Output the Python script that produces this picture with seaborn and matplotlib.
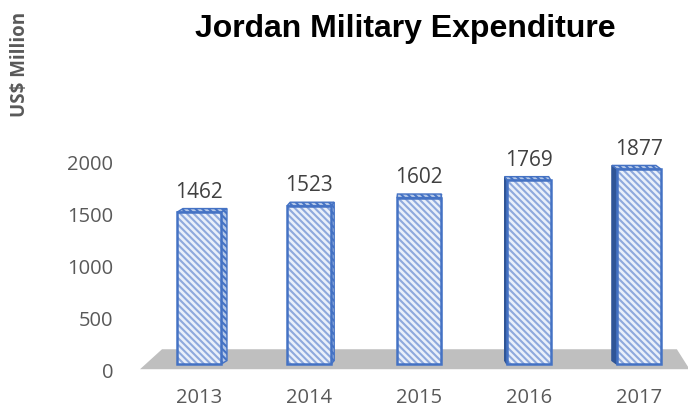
import matplotlib
matplotlib.use("Agg")
import matplotlib.pyplot as plt
import seaborn as sns
import pandas as pd
from matplotlib.patches import Polygon, Rectangle
from matplotlib.transforms import ScaledTranslation

years = ["2013", "2014", "2015", "2016", "2017"]
spending = [1462, 1523, 1602, 1769, 1877]
yticks = [0, 500, 1000, 1500, 2000]

df = pd.DataFrame({"year": years, "spend": spending})

sns.set_style("white")
plt.rcParams["font.family"] = ["Open Sans", "DejaVu Sans"]
plt.rcParams["hatch.linewidth"] = 1.5

fig = plt.figure(figsize=(6.9, 4.1), dpi=100)
# bars start at the floor, 0 tick label sits a bit lower (3d look)
ax = fig.add_axes([0.2007, 0.094, 0.797, 0.5478])

# grey 3d floor
floor = Polygon([(-0.536, -48), (-0.336, 144), (4.345, 144), (4.46, -48)],
                closed=True, facecolor="#bfbfbf", edgecolor="none", zorder=0)
ax.add_patch(floor)

sns.barplot(data=df, x="year", y="spend", width=0.4, ax=ax, color="#dae3f3",
            zorder=3)
edge = "#4472c4"
hatch = "\\" * 5
bars = [p for p in ax.patches if isinstance(p, Rectangle)]
for i, p in enumerate(bars):
    p.set_hatch(hatch)
    p.set_edgecolor("#8ea9dd")
    p.set_linewidth(0)
    p.set_facecolor("#eaf0fa")
    x0 = p.get_x()
    w = p.get_width()
    h = p.get_height()
    # outline
    ax.add_patch(Polygon([(x0, 0), (x0, h), (x0 + w, h), (x0 + w, 0)], closed=True,
                         fill=False, edgecolor=edge, linewidth=1.8, zorder=4))
    # side and top faces (perspective)
    dx = (6 - 2.75 * (i)) / 110
    dy = 35
    if dx > 0:
        side = [(x0 + w, 0), (x0 + w + dx, dy), (x0 + w + dx, h + dy), (x0 + w, h)]
        ax.add_patch(Polygon(side, closed=True, facecolor="#b4c7e7", edgecolor=edge,
                             hatch=hatch, linewidth=1.0, zorder=2))
    else:
        side = [(x0, 0), (x0 + dx, dy), (x0 + dx, h + dy), (x0, h)]
        ax.add_patch(Polygon(side, closed=True, facecolor="#2f5597", edgecolor="#2f5597",
                             linewidth=1.0, zorder=2))
    top = [(x0, h), (x0 + w, h), (x0 + w + dx, h + dy), (x0 + dx, h + dy)]
    ax.add_patch(Polygon(top, closed=True, facecolor="#b4c7e7", edgecolor=edge,
                         hatch=hatch, linewidth=1.0, zorder=2))
    ax.annotate(str(spending[i]), (x0 + w / 2, h), xytext=(0, 21),
                textcoords="offset pixels", ha="center", va="center",
                fontsize=15, color="#404040")

ax.set_xlim(-0.55, 4.45)
ax.set_ylim(-60, 2100)
ax.set_yticks(yticks)
ax.set_yticklabels([str(t) for t in yticks])
ax.set_xlabel("")
ax.set_ylabel("")
sns.despine(ax=ax, left=True, bottom=True)
ax.tick_params(axis="y", length=0, pad=18, labelsize=14.5, labelcolor="#595959")
ax.tick_params(axis="x", length=0, pad=12, labelsize=14.5, labelcolor="#595959")
for lbl in ax.get_yticklabels():
    lbl.set_transform(lbl.get_transform() + ScaledTranslation(0, -5 / 100, fig.dpi_scale_trans))

fig.text(405 / 690, 1 - 37 / 410, "Jordan Military Expenditure", ha="center",
         va="baseline", fontsize=23, fontweight="bold", family="Liberation Sans",
         color="black")
fig.text(20 / 690, 1 - 64 / 410, "US$ Million", rotation=90, ha="center",
         va="center", fontsize=13.5, fontweight="bold", color="#595959")

fig.savefig("out.png", dpi=100)
